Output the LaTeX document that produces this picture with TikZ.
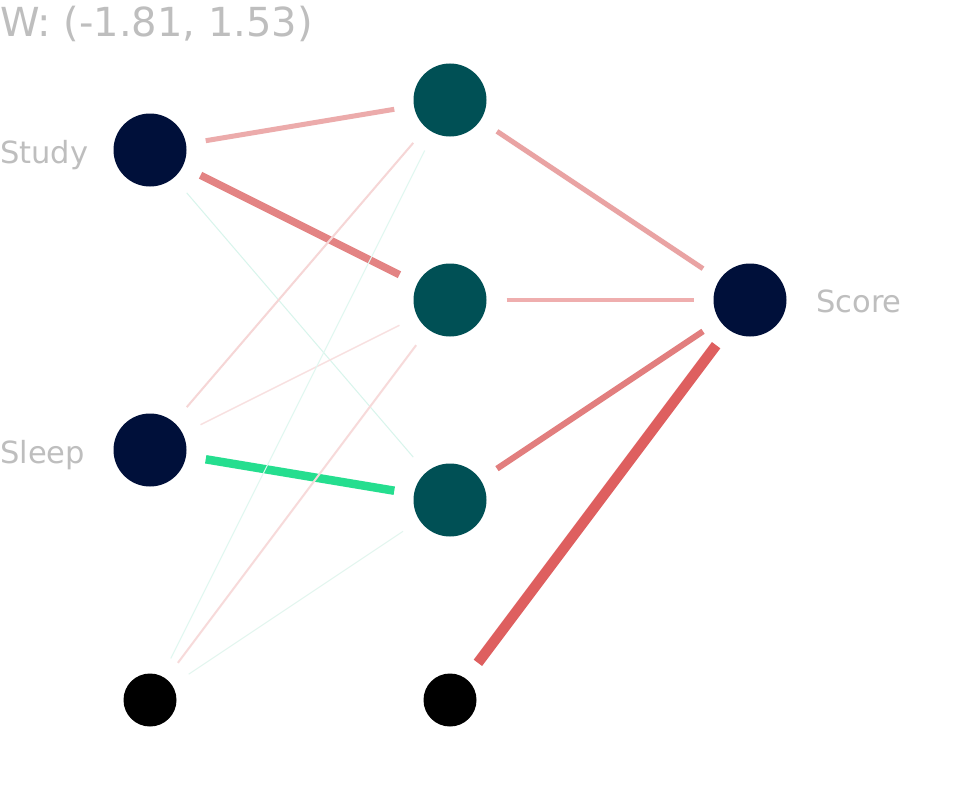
\documentclass[tikz,border=0pt]{standalone}
\usepackage{fontspec}
\setmainfont{DejaVu Sans}
\definecolor{navy}{HTML}{00103A}
\definecolor{tealn}{HTML}{005055}
\definecolor{lbl}{HTML}{BEBEBE}
\definecolor{cSHa}{HTML}{ECABAB}
\definecolor{cSHb}{HTML}{E38383}
\definecolor{cSHc}{HTML}{D8F5EC}
\definecolor{cLHa}{HTML}{F6D6D6}
\definecolor{cLHb}{HTML}{F8E0E0}
\definecolor{cLHc}{HTML}{25DE8F}
\definecolor{cBHa}{HTML}{DFF8F0}
\definecolor{cBHb}{HTML}{F7DADA}
\definecolor{cBHc}{HTML}{E3F6EF}
\definecolor{cHOa}{HTML}{E9A3A3}
\definecolor{cHOb}{HTML}{EFAEAE}
\definecolor{cHOc}{HTML}{E27E7E}
\definecolor{cBO}{HTML}{DE5F5F}
\begin{document}
\begin{tikzpicture}[x=1pt,y=-1pt,
  neuron/.style={circle, inner sep=0pt, minimum size=73pt, outer sep=20pt},
  innode/.style={neuron, fill=navy},
  hidnode/.style={neuron, fill=tealn},
  biasnode/.style={circle, inner sep=0pt, minimum size=53pt, outer sep=20pt, fill=black},
  wire/.style={line cap=butt},
  label/.style={anchor=base west, inner sep=0pt, text=lbl, font=\fontsize{30.5}{36}\selectfont},
  titletext/.style={anchor=base west, inner sep=0pt, text=lbl, font=\fontsize{40}{48}\selectfont}]
\fill[white] (0,0) rectangle (980,800);
\useasboundingbox (0,0) rectangle (980,800);
% node positions
\node[innode] (s) at (150,150) {};
\node[innode] (l) at (150,450) {};
\node[biasnode] (b1) at (150,700) {};
\node[hidnode] (h1) at (450,100) {};
\node[hidnode] (h2) at (450,300) {};
\node[hidnode] (h3) at (450,500) {};
\node[biasnode] (b2) at (450,700) {};
\node[innode] (o) at (750,300) {};
% edges input -> hidden
\draw[wire, line width=5pt, draw=cSHa] (s) -- (h1);
\draw[wire, line width=7.5pt, draw=cSHb] (s) -- (h2);
\draw[wire, line width=1pt, draw=cSHc] (s) -- (h3);
\draw[wire, line width=2pt, draw=cLHa] (l) -- (h1);
\draw[wire, line width=1.5pt, draw=cLHb] (l) -- (h2);
\draw[wire, line width=8.5pt, draw=cLHc] (l) -- (h3);
\draw[wire, line width=1pt, draw=cBHa] (b1) -- (h1);
\draw[wire, line width=2pt, draw=cBHb] (b1) -- (h2);
\draw[wire, line width=1pt, draw=cBHc] (b1) -- (h3);
% edges hidden -> output
\draw[wire, line width=5pt, draw=cHOa] (h1) -- (o);
\draw[wire, line width=4.5pt, draw=cHOb] (h2) -- (o);
\draw[wire, line width=6pt, draw=cHOc] (h3) -- (o);
\draw[wire, line width=10.5pt, draw=cBO] (b2) -- (o);
% labels
\node[label] (ls) at (0,163) {Study};
\node[label] (ll) at (0,463) {Sleep};
\node[label] (lo) at (816,312) {Score};
\node[titletext] (tt) at (0,37) {W: (-1.81, 1.53)};
\end{tikzpicture}
\end{document}
